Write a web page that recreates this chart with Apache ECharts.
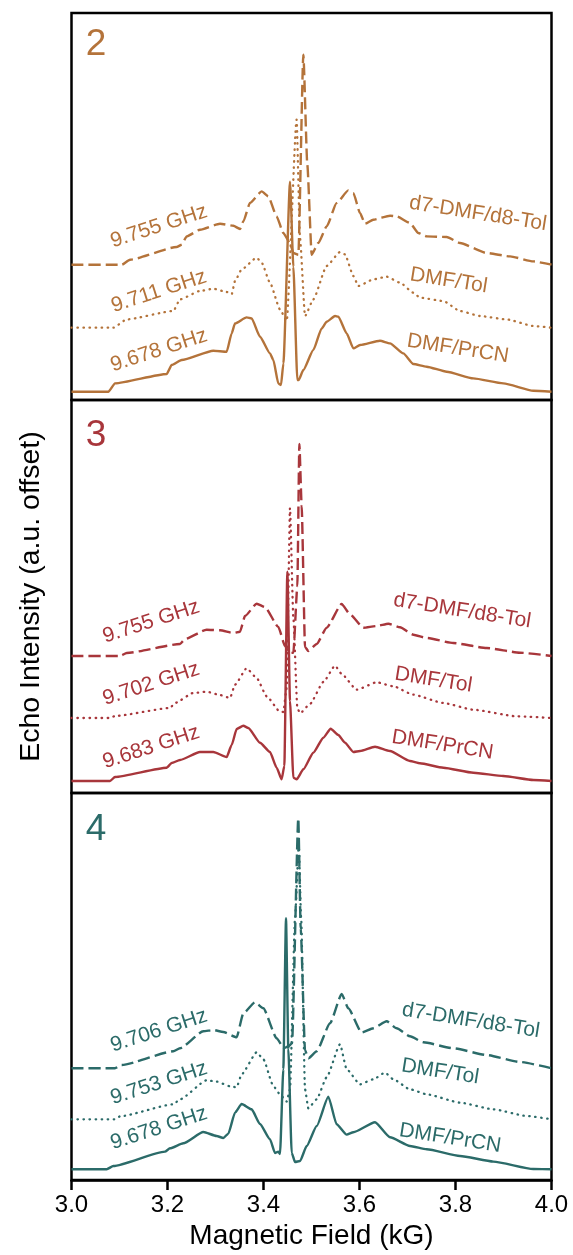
<!DOCTYPE html>
<html><head><meta charset="utf-8">
<script src="https://cdn.jsdelivr.net/npm/echarts@6/dist/echarts.min.js"></script>
<style>html,body{margin:0;padding:0;background:#fff}#c{width:573px;height:1255px}</style>
</head><body><div id="c"></div>
<script>
// ---------- DATA ----------
const panelNames = ['2', '3', '4'];
const panelColors = ['#B4733A', '#A8363B', '#2B6B69'];
const xTicks = [3.0, 3.2, 3.4, 3.6, 3.8, 4.0];
const solventLabels = ['d7-DMF/d8-Tol', 'DMF/Tol', 'DMF/PrCN'];
const freqLabels = [
  ['9.755 GHz', '9.711 GHz', '9.678 GHz'],
  ['9.755 GHz', '9.702 GHz', '9.683 GHz'],
  ['9.706 GHz', '9.753 GHz', '9.678 GHz']
];
// vertical offsets (a.u.) of traces: [dashed, dotted, solid]
const offsets = [[1.27, 0.64, 0], [1.25, 0.63, 0], [1.01, 0.50, 0]];

// Panel 2 traces [field kG, echo intensity a.u.]
const p2Dashed = [[3.0,0],[3.1045,0],[3.1219,0.05],[3.2191,0.177],[3.2295,0.2],[3.2399,0.283],[3.2677,0.35],[3.3094,0.41],[3.3372,0.39],[3.351,0.357],[3.358,0.433],[3.3719,0.617],[3.3962,0.733],[3.41,0.683],[3.4274,0.483],[3.4413,0.317],[3.4552,0.217],[3.4622,0.117],[3.4726,0.10],[3.483,2.10],[3.4913,1.0],[3.5004,0.10],[3.5142,0.217],[3.5316,0.383],[3.5524,0.617],[3.5767,0.743],[3.5872,0.717],[3.6011,0.517],[3.6115,0.41],[3.6288,0.45],[3.6636,0.49],[3.6774,0.483],[3.7052,0.417],[3.7226,0.317],[3.74,0.283],[3.7816,0.277],[3.8094,0.217],[3.8649,0.117],[3.9136,0.083],[3.9622,0.033],[4.0,0]];
const p2Dotted = [[3.0,0],[3.0872,0],[3.1149,0.083],[3.2122,0.167],[3.226,0.283],[3.2677,0.367],[3.2955,0.39],[3.3233,0.357],[3.3337,0.333],[3.3406,0.467],[3.3545,0.583],[3.3858,0.70],[3.3962,0.65],[3.4135,0.45],[3.4344,0.183],[3.4483,0.067],[3.469,2.08],[3.476,0.9],[3.4865,0.117],[3.5038,0.283],[3.5316,0.617],[3.5594,0.757],[3.5698,0.733],[3.5872,0.517],[3.5976,0.417],[3.6288,0.483],[3.6566,0.51],[3.6844,0.45],[3.7122,0.35],[3.726,0.30],[3.7747,0.267],[3.8094,0.167],[3.851,0.117],[3.9066,0.083],[3.9622,0.017],[4.0,0]];
const p2Solid = [[3.0,0],[3.0767,0],[3.0906,0.083],[3.1983,0.177],[3.2087,0.267],[3.2295,0.317],[3.2955,0.41],[3.3233,0.40],[3.3337,0.583],[3.3406,0.683],[3.3649,0.743],[3.3753,0.733],[3.3927,0.55],[3.4135,0.383],[3.4205,0.317],[3.4309,0.083],[3.4365,0.067],[3.4414,0.283],[3.4553,2.10],[3.4622,1.25],[3.4705,0.117],[3.4733,0.117],[3.483,0.217],[3.5038,0.417],[3.5212,0.633],[3.5316,0.70],[3.549,0.757],[3.5559,0.75],[3.5733,0.583],[3.5872,0.433],[3.6011,0.467],[3.6427,0.51],[3.6635,0.483],[3.6913,0.383],[3.7122,0.277],[3.74,0.25],[3.7816,0.20],[3.8372,0.133],[3.8997,0.083],[3.9622,0.01],[4.0,0]];

// Panel 3 traces
const p3Dashed = [[3.0,0],[3.101,0],[3.115,0.03],[3.2261,0.12],[3.2365,0.17],[3.2816,0.263],[3.3094,0.257],[3.3372,0.23],[3.351,0.243],[3.3615,0.40],[3.3858,0.523],[3.4031,0.49],[3.4309,0.29],[3.4448,0.10],[3.4538,0.03],[3.4622,0.033],[3.4705,0.7],[3.4747,2.12],[3.4795,1.5],[3.4865,0.09],[3.4934,0.05],[3.5108,0.12],[3.5316,0.283],[3.5628,0.52],[3.5802,0.417],[3.608,0.283],[3.6358,0.30],[3.6601,0.323],[3.6844,0.287],[3.7122,0.213],[3.74,0.18],[3.7955,0.13],[3.8649,0.08],[3.9344,0.033],[4.0,0]];
const p3Dotted = [[3.0,0],[3.0802,0],[3.0906,0.02],[3.2052,0.10],[3.2156,0.15],[3.2538,0.25],[3.2816,0.263],[3.3094,0.23],[3.3302,0.20],[3.3406,0.333],[3.3649,0.497],[3.3858,0.40],[3.4066,0.217],[3.4344,0.063],[3.4413,0.06],[3.4483,0.30],[3.4552,2.10],[3.4622,1.0],[3.4705,0.10],[3.476,0.047],[3.4969,0.14],[3.5247,0.36],[3.549,0.523],[3.5628,0.44],[3.5941,0.283],[3.6358,0.357],[3.6705,0.317],[3.7122,0.233],[3.7747,0.15],[3.8372,0.083],[3.9274,0.017],[4.0,0]];
const p3Solid = [[3.0,0],[3.0802,0],[3.0906,0.04],[3.1983,0.133],[3.2087,0.18],[3.2261,0.21],[3.2677,0.29],[3.2955,0.29],[3.3233,0.24],[3.3337,0.36],[3.3441,0.52],[3.358,0.553],[3.3684,0.53],[3.3927,0.383],[3.4135,0.29],[3.4274,0.133],[3.4378,0.017],[3.4434,0.15],[3.4497,2.093],[3.4552,0.8],[3.4622,0.033],[3.4691,0.017],[3.483,0.117],[3.5038,0.283],[3.5247,0.433],[3.54,0.523],[3.5559,0.46],[3.5698,0.383],[3.5872,0.29],[3.6011,0.30],[3.6323,0.343],[3.6635,0.30],[3.7052,0.20],[3.726,0.177],[3.7747,0.133],[3.8372,0.083],[3.8997,0.05],[3.9622,0.01],[4.0,0]];

// Panel 4 traces
const p4Dashed = [[3.0,0],[3.0906,0],[3.1045,0.033],[3.2122,0.17],[3.226,0.20],[3.2747,0.37],[3.2955,0.383],[3.3163,0.363],[3.344,0.31],[3.358,0.55],[3.3823,0.66],[3.3997,0.60],[3.4274,0.30],[3.4427,0.20],[3.4517,0.22],[3.4594,0.25],[3.4725,2.50],[3.4775,1.4],[3.4865,0.18],[3.4934,0.10],[3.5108,0.17],[3.5386,0.45],[3.5629,0.743],[3.5767,0.60],[3.6045,0.357],[3.6288,0.40],[3.6566,0.47],[3.6774,0.40],[3.7052,0.32],[3.733,0.26],[3.7955,0.20],[3.8649,0.133],[3.9344,0.063],[4.0,0]];
const p4Dotted = [[3.0,0],[3.0906,0],[3.101,0.03],[3.2122,0.15],[3.226,0.20],[3.2816,0.39],[3.3024,0.377],[3.3302,0.33],[3.344,0.32],[3.3545,0.45],[3.3858,0.67],[3.3997,0.60],[3.4205,0.333],[3.4344,0.25],[3.4483,0.177],[3.4552,0.30],[3.4656,2.0],[3.4735,2.75],[3.4785,2.0],[3.4865,0.3],[3.4934,0.11],[3.5108,0.20],[3.5316,0.42],[3.5594,0.75],[3.5733,0.50],[3.6011,0.35],[3.6288,0.40],[3.6531,0.467],[3.6705,0.40],[3.7052,0.30],[3.74,0.25],[3.8094,0.167],[3.8789,0.10],[3.9483,0.033],[4.0,0]];
const p4Solid = [[3.0,0],[3.0733,0],[3.0872,0.033],[3.1948,0.177],[3.2052,0.21],[3.233,0.26],[3.2747,0.373],[3.3024,0.333],[3.3163,0.313],[3.3267,0.357],[3.3406,0.567],[3.3545,0.653],[3.3753,0.60],[3.3927,0.453],[3.4135,0.30],[3.424,0.163],[3.4309,0.177],[3.4344,0.153],[3.4413,1.0],[3.4469,2.51],[3.4517,1.2],[3.4587,0.167],[3.4657,0.073],[3.4761,0.083],[3.49,0.233],[3.5108,0.433],[3.5351,0.727],[3.5524,0.45],[3.5733,0.347],[3.5872,0.37],[3.6323,0.47],[3.6636,0.32],[3.7052,0.233],[3.74,0.20],[3.8094,0.133],[3.8789,0.077],[3.9622,0.003],[4.0,0]];

const traces = [[p2Dashed, p2Dotted, p2Solid], [p3Dashed, p3Dotted, p3Solid], [p4Dashed, p4Dotted, p4Solid]];

// label anchors in data coords [field, a.u.]
const freqLabelPos = [
  [[3.182,1.653],[3.182,1.003],[3.182,0.413]],
  [[3.166,1.593],[3.166,0.97],[3.166,0.337]],
  [[3.182,1.386],[3.182,0.86],[3.182,0.41]]
];
const solventLabelPos = [
  [[3.847,1.78],[3.786,1.11],[3.805,0.43]],
  [[3.814,1.70],[3.754,1.01],[3.773,0.36]],
  [[3.832,1.486],[3.768,0.976],[3.789,0.31]]
];
const panelNumPos = [[3.051,3.47],[3.051,3.45],[3.051,3.40]];

// ---------- LAYOUT ----------
const grids = [
  {left: 71.5, width: 480, top: 13, height: 387},
  {left: 71.5, width: 480, top: 400, height: 393},
  {left: 71.5, width: 480, top: 793, height: 387}
];
const yRanges = [[-0.083, 3.787], [-0.12, 3.81], [-0.107, 3.763]];
const FONT = '"Liberation Sans", Arial, Helvetica, sans-serif';
const lineTypes = [[12, 5], [0.5, 5.5], 'solid'];
const lineWidths = [2.4, 2.3, 2.4];

const chart = echarts.init(document.getElementById('c'), null, {renderer: 'canvas'});

const option = {
  animation: false,
  backgroundColor: '#fff',
  grid: grids.map(g => Object.assign({show: true, borderColor: '#000', borderWidth: 2.5, backgroundColor: 'transparent'}, g)),
  xAxis: grids.map((g, i) => ({
    type: 'value', gridIndex: i, min: 3.0, max: 4.0, interval: 0.2,
    show: i === 2,
    axisLine: {show: true, onZero: false, lineStyle: {color: '#000', width: 2.5}},
    axisTick: {show: true, length: 10, lineStyle: {color: '#000', width: 2.5}},
    axisLabel: {show: true, fontSize: 24, color: '#000', fontFamily: FONT, margin: 13,
      formatter: v => xTicks.some(t => Math.abs(t - v) < 1e-6) ? v.toFixed(1) : ''},
    splitLine: {show: false},
    name: i === 2 ? 'Magnetic Field (kG)' : '',
    nameLocation: 'middle', nameGap: 42,
    nameTextStyle: {fontSize: 28, color: '#000', fontFamily: FONT}
  })),
  yAxis: grids.map((g, i) => ({
    type: 'value', gridIndex: i, min: yRanges[i][0], max: yRanges[i][1],
    show: i === 1,
    axisLine: {show: false}, axisTick: {show: false}, axisLabel: {show: false}, splitLine: {show: false},
    name: i === 1 ? 'Echo Intensity (a.u. offset)' : '',
    nameLocation: 'middle', nameGap: 26, nameRotate: 90,
    nameTextStyle: {fontSize: 28.5, color: '#000', fontFamily: FONT}
  })),
  series: []
};

traces.forEach((panel, p) => {
  panel.forEach((tr, t) => {
    option.series.push({
      type: 'line', xAxisIndex: p, yAxisIndex: p,
      data: tr.map(d => [d[0], d[1] + offsets[p][t]]),
      showSymbol: false, symbol: 'none', smooth: 0.18, smoothMonotone: 'x', silent: true,
      lineStyle: {color: panelColors[p], width: lineWidths[t], type: lineTypes[t], cap: t === 1 ? 'round' : 'butt', join: 'round'},
      z: 3 - t
    });
  });
});

chart.setOption(option);

// annotation text placed via data coordinates
const graphics = [];
for (let p = 0; p < 3; p++) {
  const num = chart.convertToPixel({gridIndex: p}, panelNumPos[p]);
  graphics.push({type: 'text', x: num[0], y: num[1], z: 10,
    style: {text: panelNames[p], fill: panelColors[p], font: '37px ' + FONT, align: 'center', verticalAlign: 'middle'}});
  for (let t = 0; t < 3; t++) {
    const f = chart.convertToPixel({gridIndex: p}, freqLabelPos[p][t]);
    graphics.push({type: 'text', x: f[0], y: f[1], rotation: 18 * Math.PI / 180, z: 10,
      style: {text: freqLabels[p][t], fill: panelColors[p], font: '21px ' + FONT, align: 'center', verticalAlign: 'middle'}});
    const s = chart.convertToPixel({gridIndex: p}, solventLabelPos[p][t]);
    graphics.push({type: 'text', x: s[0], y: s[1], rotation: -9 * Math.PI / 180, z: 10,
      style: {text: solventLabels[t], fill: panelColors[p], font: '21px ' + FONT, align: 'center', verticalAlign: 'middle'}});
  }
}
chart.setOption({graphic: graphics});
</script>
</body></html>
